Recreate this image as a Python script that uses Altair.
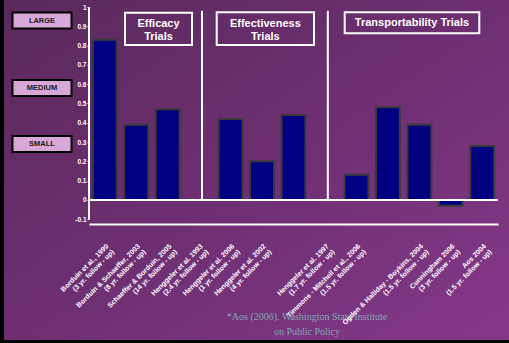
import json
import altair as alt
import pandas as pd

# ---------------- data ----------------
slots = list(range(13))
bar_slots = [0, 1, 2, 4, 5, 6, 8, 9, 10, 11, 12]
bar_values = [0.83, 0.39, 0.47, 0.42, 0.20, 0.44, 0.13, 0.48, 0.39, -0.03, 0.28]
slot_labels = [
    ["Borduin et al., 1990", "(3 yr. follow - up)"],
    ["Borduin & Schaeffer, 2003", "(8 yr. follow - up)"],
    ["Schaeffer & Borduin, 2005", "(14 yr. follow - up)"],
    ["Henggeler et al. 1993", "(2.4 yr. follow - up)"],
    ["Henggeler et al. 2006", "(1 yr. follow - up)"],
    ["Henggeler et al. 2002", "(4 yr. follow - up)"],
    [""],
    ["Henggeler et al. 1997", "(1.7 yr. follow - up)"],
    ["Timmons - Mitchell et al., 2006", "(1.5 yr. follow - up)"],
    [""],
    ["Ogden & Halliday - Boykins, 2004", "(1.5 yr. follow - up)"],
    ["Cunningham 2006", "(3 yr. follow - up)"],
    ["Aos 2004", "(1.5 yr. follow - up)"],
]
divider_slots = [3, 7]
divider_tops = [0.98, 0.98]
y_ticks = [-0.1, 0, 0.1, 0.2, 0.3, 0.4, 0.5, 0.6, 0.7, 0.8, 0.9, 1]
effect_names = ["LARGE", "MEDIUM", "SMALL"]
effect_levels = [0.93, 0.58, 0.29]
group_titles = [["Efficacy", "Trials"], ["Effectiveness", "Trials"], ["Transportability Trials"]]
footnote = ["*Aos (2006).  Washington State Institute", "on Public Policy"]

# ---------------- tables ----------------
bars = pd.DataFrame({"slot": bar_slots, "value": bar_values})
dividers = pd.DataFrame({"slot": divider_slots, "top": divider_tops})
effects = pd.DataFrame({"name": effect_names, "level": effect_levels})
one = pd.DataFrame({"k": [0]})

FONT = "Liberation Sans"
W, H = 409, 217

xscale = alt.Scale(domain=slots, paddingInner=0.24, paddingOuter=0.12)
yscale = alt.Scale(domain=[-0.125, 1.0], nice=False, zero=False)

label_expr = json.dumps(slot_labels) + "[datum.value]"
xaxis = alt.Axis(
    title=None, domain=True, domainColor="white", domainWidth=2, ticks=False,
    labelExpr=label_expr, labelAngle=-45, labelAlign="right", labelBaseline="top",
    labelPadding=18, labelColor="white", labelFont=FONT, labelFontWeight="bold",
    labelFontSize=7, labelLineHeight=8, labelOverlap=False, labelBound=False,
    labelLimit=300, grid=False, zindex=2,
)
yaxis = alt.Axis(
    title=None, values=y_ticks, domain=False, ticks=True, tickColor="white",
    tickSize=2, tickWidth=1, labelColor="white", labelFont=FONT,
    labelFontWeight="bold", labelFontSize=6.5, labelPadding=1, grid=False,
    labelExpr="'' + round(datum.value*10)/10", zindex=2,
)

X = lambda f: alt.X(f, type="ordinal", scale=xscale, axis=xaxis)

# background gradient panel
bg = alt.Chart(one).mark_rect(
    clip=False,
    color=alt.LinearGradient(
        gradient="linear", x1=0, y1=0, x2=1, y2=1,
        stops=[alt.GradientStop(color="#5a2a5c", offset=0),
               alt.GradientStop(color="#6e2f72", offset=0.5),
               alt.GradientStop(color="#853889", offset=1)],
    ),
).encode(x=alt.value(-85), x2=alt.value(420), y=alt.value(-7), y2=alt.value(333))

bar_layer = alt.Chart(bars).mark_bar(
    fill="#000080", stroke="#3a3a3a", strokeWidth=2
).encode(
    x=X("slot"),
    y=alt.Y("value:Q", scale=yscale, axis=yaxis),
)

zero_line = alt.Chart(one).mark_rule(color="white", strokeWidth=2).encode(
    y=alt.datum(0, scale=yscale, axis=yaxis)
)

y_line = alt.Chart(one).mark_rule(color="white", strokeWidth=2).encode(
    x=alt.value(0), y=alt.datum(-0.1, axis=yaxis), y2=alt.datum(1)
)

divider_layer = alt.Chart(dividers).mark_rule(color="white", strokeWidth=2).encode(
    x=alt.X("slot", type="ordinal", scale=xscale, axis=xaxis, bandPosition=0.62),
    y=alt.Y("top:Q", axis=yaxis), y2=alt.datum(0),
)

box_path = "M-1,-0.271H1V0.271H-1Z"
effect_boxes = alt.Chart(effects).mark_point(
    shape=box_path, size=59 * 59, filled=True, fill="#d8a8d8", stroke="black",
    strokeWidth=2, opacity=1, clip=False,
).encode(x=alt.value(-47), y=alt.Y("level:Q", axis=yaxis))

effect_text = alt.Chart(effects).mark_text(
    font=FONT, fontWeight="bold", fontSize=7.5, color="#1a1a1a", clip=False,
    baseline="middle", align="center",
).encode(x=alt.value(-47), y=alt.Y("level:Q", axis=yaxis), text="name:N")

boxes_spec = [(36, 103, 5.7, 38), (127.7, 225, 5.3, 38), (255.7, 390.3, 5.3, 26.3)]
first_line_y = [17, 17, 15.8]
title_layers = []
for (x1, x2, y1, y2), ty, txt in zip(boxes_spec, first_line_y, group_titles):
    title_layers.append(
        alt.Chart(one).mark_rect(fillOpacity=0, stroke="white", strokeWidth=2).encode(
            x=alt.value(x1), x2=alt.value(x2), y=alt.value(y1), y2=alt.value(y2)
        )
    )
    title_layers.append(
        alt.Chart(one).mark_text(
            text=txt, font=FONT, fontWeight="bold", fontSize=11, color="white",
            lineHeight=13.3, baseline="middle", align="center",
        ).encode(x=alt.value((x1 + x2) / 2), y=alt.value(ty))
    )

foot = alt.Chart(one).mark_text(
    text=footnote, font="Liberation Serif", fontSize=10, color="#7fa9b3",
    lineHeight=14.5, baseline="middle", align="center", clip=False,
).encode(x=alt.value(218), y=alt.value(310))

chart = alt.layer(
    bg, bar_layer, zero_line, divider_layer, y_line, effect_boxes, effect_text,
    *title_layers, foot,
).properties(
    width=W, height=H,
    autosize=alt.AutoSizeParams(type="none"),
    padding={"left": 89, "top": 7, "right": 11, "bottom": 119},
).configure(background="black").configure_view(stroke=None)

chart.save("out.html", embed_options={"renderer": "svg", "actions": False})
